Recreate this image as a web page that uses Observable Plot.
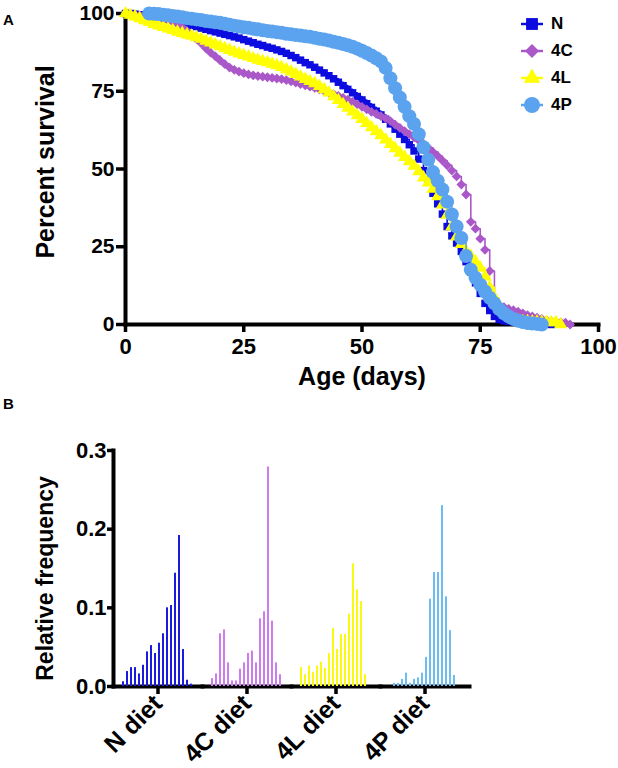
<!DOCTYPE html>
<html>
<head>
<meta charset="utf-8">
<script src="https://cdn.jsdelivr.net/npm/d3@7"></script>
<script src="https://cdn.jsdelivr.net/npm/@observablehq/plot@0.6"></script>
<style>
html,body{margin:0;padding:0;background:#fff;}
#fig{position:relative;width:618px;height:768px;overflow:hidden;font-family:"Liberation Sans",Arial,Helvetica,sans-serif;font-weight:bold;color:#000;}
#panelA{position:absolute;left:0;top:0;}
#panelB{position:absolute;left:0;top:375px;}
.plabel{position:absolute;font-size:15px;line-height:1;}
#legend{position:absolute;left:520px;top:10px;}
.lrow{display:flex;align-items:center;height:27px;font-size:17px;}
.lrow svg{margin-right:7px;display:block;}
</style>
</head>
<body>
<div id="fig">
  <div id="panelA"></div>
  <div id="panelB"></div>
  <div class="plabel" style="left:3px;top:12px">A</div>
  <div class="plabel" style="left:3px;top:396px">B</div>
  <div id="legend"></div>
</div>
<script>
// ---------- Panel A data: Kaplan-Meier percent survival by age (days) ----------
const seriesNames = ["N", "4C", "4L", "4P"];
const lineColors = ["#0c0ce0", "#aa58c9", "#ffff00", "#5ba3ee"];
const symbolNames = ["square", "diamond2", "triangle", "circle"];
const xTicksA = [0, 25, 50, 75, 100];
const yTicksA = [0, 25, 50, 75, 100];

const ageDays = [0,1,2,3,4,5,6,7,8,9,10,11,12,13,14,15,16,17,18,19,20,21,22,23,24,25,26,27,28,29,30,31,32,33,34,35,36,37,38,39,40,41,42,43,44,45,46,47,48,49,50,51,52,53,54,55,56,57,58,59,60,61,62,63,64,65,66,67,68,69,70,71,72,73,74,75,76,77,78,79,80,81,82,83,84,85,86,87,88,89,90,91,92,93,94];

const survN = [100,100,99.8,99.6,99.4,99.2,99,98.8,98.5,98.2,
97.8,97.4,97,96.6,96.2,95.8,95.3,94.9,94.5,94.1,
93.7,93.3,92.9,92.5,92.1,91.6,91.1,90.6,90.1,89.7,
89.2,88.8,88.3,87.8,87.2,86.5,85.8,85,84.2,83.5,
82.7,81.8,80.9,80,79,77.9,76.8,75.6,74.5,73.3,
72.2,71,69.8,68.6,67.4,66,64.5,62.8,61.2,59.5,
57.8,55.8,53.2,49.5,45.8,42.2,38.8,35.5,31.5,28.5,
26.2,23.5,20.2,16.8,13.4,10,6.8,4.5,2.6,1.6,
1.2,1,0.9,0.8,0.7,0.6,0.5,0.5,0.4,0.4,
0,null,null,null,null];

const surv4C = [100,99.8,99.6,99.4,99.2,99,98.7,98.4,98.1,97.8,
97.3,96.6,95.6,94.4,93.1,91.8,90.4,88.8,87.4,86.2,
84.9,83.7,82.6,81.9,81.3,80.8,80.4,80.1,79.9,79.7,
79.5,79.3,79.1,78.9,78.6,78.2,77.8,77.3,76.9,76.5,
76.1,75.6,75.1,74.6,74.1,73.5,72.9,72.3,71.6,70.8,
70,69.2,68.4,67.7,67,66.3,65.4,64.3,63.2,62.2,
61.2,60.2,59.2,58,56.8,55.5,54.2,52.7,51.2,49.5,
47.6,45,41.8,33,30.8,27.6,24,17.2,7.5,6.3,
5.6,5,4.6,4.1,3.6,3,2.6,2.2,1.8,1.4,
1.1,0.9,0.7,0.6,0];

const surv4L = [100,99.5,99,98.4,97.8,97.2,96.6,96.1,95.6,95.1,
94.6,94.1,93.7,93.2,92.8,92.3,91.8,91.2,90.6,90,
89.4,88.8,88.2,87.6,87.1,86.6,86.1,85.6,85.1,84.7,
84.3,83.8,83.3,82.7,82,81.3,80.5,79.7,78.9,78.2,
77.5,76.6,75.6,74.5,73.3,72.1,70.8,69.6,68.4,67.2,
66,64.7,63.4,62.1,60.8,59.4,58,56.6,55.2,53.8,
52.4,51,49.2,47.2,45.6,43.6,41.2,38.5,35.2,31.5,
28.2,25.8,23.6,22,20.2,18.2,15.4,12,8.6,6,
4,2.6,1.6,1.2,1,1,0.9,0.9,0.8,0.8,
0.7,0.7,0,null,null];

const surv4P = [null,null,null,null,null,100,99.9,99.8,99.6,99.4,
99.2,99,98.8,98.5,98.3,98.1,97.9,97.6,97.4,97.2,
97,96.7,96.4,96.1,95.8,95.6,95.4,95.1,94.9,94.6,
94.4,94.2,94,93.8,93.5,93.3,93.1,92.9,92.7,92.5,
92.2,91.9,91.6,91.3,90.9,90.6,90.2,89.8,89.3,88.7,
88,87.3,86.5,85.6,84.6,82.5,79.2,76,73,70,
67,64.5,61.2,57,53,49,46.2,43.4,39.5,35.4,
31.5,27.8,22,17.6,15,12.8,10.6,8.6,6.8,5,
3.6,2.6,1.8,1.2,0.8,0.5,0.3,0.2,0,null,
null,null,null,null,null];

// ---------- Panel B data: relative frequency of age at death, 5-day bins ----------
const dietLabels = ["N diet", "4C diet", "4L diet", "4P diet"];
const barColors = ["#1b1be0", "#cc7cee", "#fafa10", "#6cbdf2"];
const binStarts = [0,5,10,15,20,25,30,35,40,45,50,55,60,65,70,75,80,85];
const yTicksB = [0, 0.1, 0.2, 0.3];
const freqN  = [0.006,0.019,0.024,0.024,0.016,0.027,0.044,0.052,0.042,0.055,0.067,0.100,0.103,0.144,0.192,0.047,0.008,0.003];
const freq4C = [0.010,0.016,0.067,0.072,0.030,0.007,0.007,0.022,0.030,0.042,0.045,0.030,0.086,0.095,0.279,0.083,0.030,0.015];
const freq4L = [0.024,0.015,0.026,0.018,0.026,0.031,0.023,0.042,0.074,0.047,0.066,0.066,0.092,0.156,0.123,0.108,0.015,0];
const freq4P = [0,0.004,0.004,0.009,0.017,0.004,0.009,0.011,0.017,0.037,0.111,0.145,0.145,0.230,0.114,0.071,0.014,0];

const FONT = '"Liberation Sans", Arial, Helvetica, sans-serif';

// ---------- Panel A ----------
const survSets = [survN, surv4C, surv4L, surv4P];
const survTables = survSets.map((s, i) =>
  ageDays.map((d, j) => ({day: d, pct: s[j], series: seriesNames[i]})).filter(r => r.pct != null));
const dotR = [4.2, 4.4, 4.9, 7];

const marksA = [
  Plot.frame({anchor: "left", strokeWidth: 4}),
  Plot.frame({anchor: "bottom", strokeWidth: 4}),
  Plot.axisY({ticks: yTicksA, tickSize: 9, tickPadding: 2, strokeWidth: 3.5, fontSize: 21, label: null}),
  Plot.axisX({ticks: xTicksA, tickSize: 8, tickPadding: 6, strokeWidth: 3.5, fontSize: 22, label: null}),
  Plot.text(["Percent survival"], {frameAnchor: "left", textAnchor: "middle", rotate: -90, dx: -80, dy: -7, fontSize: 25}),
  Plot.text(["Age (days)"], {frameAnchor: "bottom", textAnchor: "middle", dy: 60, fontSize: 25})
];
survTables.forEach((t, i) => {
  marksA.push(Plot.line(t, {x: "day", y: "pct", curve: "step-after", stroke: lineColors[i], strokeWidth: 1.6}));
  marksA.push(Plot.dot(t, {x: "day", y: "pct", symbol: symbolNames[i], fill: lineColors[i], r: dotR[i]}));
});

const chartA = Plot.plot({
  width: 618, height: 375,
  marginTop: 13, marginBottom: 51, marginLeft: 125, marginRight: 20,
  x: {domain: [0, 100]},
  y: {domain: [0, 100]},
  style: {fontFamily: FONT, fontWeight: "bold", color: "#000", background: "transparent", overflow: "visible"},
  marks: marksA
});
document.getElementById("panelA").appendChild(chartA);

// ---------- Panel B ----------
const freqSets = [freqN, freq4C, freq4L, freq4P];
const histRows = dietLabels.flatMap((diet, g) => freqSets[g].map((f, j) => ({diet, bin: binStarts[j], freq: f})));

const chartB = Plot.plot({
  width: 618, height: 393,
  marginTop: 75, marginBottom: 82, marginLeft: 113, marginRight: 149,
  fx: {domain: dietLabels, padding: 0},
  x: {type: "band", domain: binStarts, paddingInner: 0.376, paddingOuter: 0, insetLeft: 6.3, insetRight: 6.3, axis: null},
  y: {domain: [0, 0.3]},
  color: {domain: dietLabels, range: barColors},
  style: {fontFamily: FONT, fontWeight: "bold", color: "#000", background: "transparent", overflow: "visible"},
  marks: [
    Plot.frame({anchor: "left", facetAnchor: "left", strokeWidth: 4}),
    Plot.frame({anchor: "bottom", strokeWidth: 4}),
    Plot.axisY({ticks: yTicksB, tickFormat: d3.format(".1f"), tickSize: 6, tickPadding: 1, strokeWidth: 3.5, fontSize: 22, label: null}),
    Plot.axisFx({anchor: "bottom", tickRotate: -45, tickSize: 8, tickPadding: 5, strokeWidth: 3.5, fontSize: 25, label: null}),
    Plot.barY(histRows, {fx: "diet", x: "bin", y: "freq", fill: "diet"}),
    Plot.text(["Relative frequency"], {frameAnchor: "left", facetAnchor: "left", textAnchor: "middle", rotate: -90, dx: -68, dy: 10, fontSize: 23})
  ]
});
document.getElementById("panelB").appendChild(chartB);

// ---------- Legend for panel A ----------
const legendSymbols = [d3.symbolSquare, d3.symbolDiamond2, d3.symbolTriangle, d3.symbolCircle];
const legendSizes = [140, 125, 115, 200];
const legend = d3.select("#legend");
seriesNames.forEach((name, i) => {
  const row = legend.append("div").attr("class", "lrow");
  const s = row.append("svg").attr("width", 24).attr("height", 22);
  s.append("line").attr("x1", 1).attr("x2", 23).attr("y1", 11).attr("y2", 11)
    .attr("stroke", lineColors[i]).attr("stroke-width", 2.5);
  s.append("path").attr("transform", "translate(12,11)")
    .attr("d", d3.symbol(legendSymbols[i], legendSizes[i])()).attr("fill", lineColors[i]);
  row.append("span").text(name);
});
</script>
</body>
</html>
